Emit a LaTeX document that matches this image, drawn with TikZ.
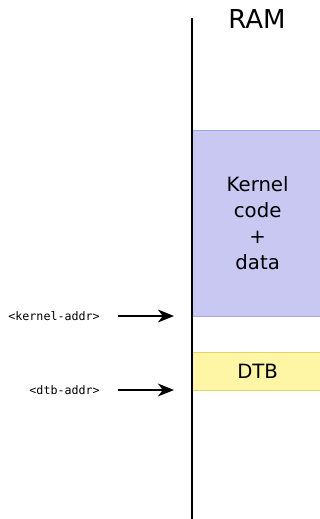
\documentclass[tikz,border=0pt]{standalone}
\usepackage{fontspec}
\setmainfont{DejaVu Sans}
\setmonofont{DejaVu Sans Mono}
\usetikzlibrary{arrows.meta,positioning}
\definecolor{kernfill}{RGB}{200,200,242}
\definecolor{kerndraw}{RGB}{165,165,215}
\definecolor{dtbfill}{RGB}{255,246,165}
\definecolor{dtbdraw}{RGB}{225,212,105}
\tikzset{
  memblk/.style={anchor=north west, inner sep=0pt, minimum width=130*0.025cm, align=center, font=\fontsize{14}{18.5}\selectfont, line width=0.9pt},
  addrlbl/.style={anchor=east, inner sep=0pt, font=\ttfamily\fontsize{8.3}{10}\selectfont},
  addrarr/.style={-{Stealth[length=4mm,width=3.2mm,inset=1.2mm]}, black, line width=1.3pt},
}
\begin{document}
\begin{tikzpicture}[x=0.025cm, y=-0.025cm]
  \useasboundingbox (0,0) rectangle (320,519);
  % memory column
  \node[memblk, fill=kernfill, draw=kerndraw, minimum height=186*0.025cm] (kern) at (192,130) {Kernel\\code\\+\\data};
  \node[memblk, fill=dtbfill, draw=dtbdraw, minimum height=38*0.025cm] (dtb) at (192,352) {DTB};
  \draw[line width=1.3pt] (192,18) coordinate (top) -- (192,519) coordinate (bot);
  \node[font=\fontsize{18.5}{20}\selectfont] (ram) at (257,19) {RAM};
  % addresses
  \node[addrlbl] (kaddr) at (100,316) {<kernel-addr>};
  \node[addrlbl] (daddr) at (100,390) {<dtb-addr>};
  \coordinate (kend) at (174,316);
  \coordinate (dend) at (174,390);
  \draw[addrarr] ([xshift=18*0.025cm]kaddr.east) -- (kend);
  \draw[addrarr] ([xshift=18*0.025cm]daddr.east) -- (dend);
\end{tikzpicture}
\end{document}
